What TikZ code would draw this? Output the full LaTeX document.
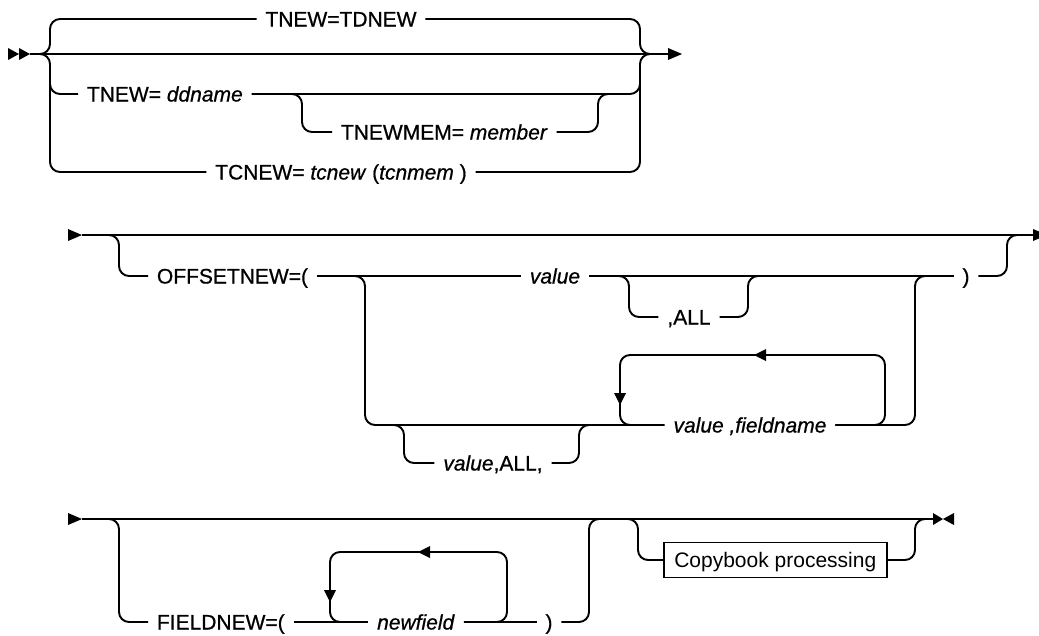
\documentclass[tikz,border=0pt]{standalone}
\usepackage{fontspec}
\setmainfont{Liberation Sans}[
  BoldFont=Liberation Sans, BoldFeatures={FakeBold=0.7},
  BoldItalicFont=Liberation Sans Italic, BoldItalicFeatures={FakeBold=0.7}]
\begin{document}
\begin{tikzpicture}[x=1pt,y=-1pt,
  line width=1.9pt,
  rc/.style={rounded corners=10pt},
  lbl/.style={inner xsep=8pt, inner ysep=0pt, text height=15pt, text depth=0pt, font=\fontsize{21}{25}\selectfont\bfseries},
  boxed/.style={draw, line width=1.6pt, inner xsep=10.5pt, inner ysep=10pt, text height=15pt, text depth=0pt, font=\fontsize{21}{25}\selectfont}]
\useasboundingbox (0,0) rectangle (1039,635);
\clip (0,0) rectangle (1039,635);

% ---------------- Section 1 ----------------
\coordinate (s1a) at (30,54);
\coordinate (s1b) at (668,54);
\draw (s1a) -- (s1b);
\fill (8,48) -- (19,54) -- (8,60) -- cycle;
\fill (19,48) -- (30,54) -- (19,60) -- cycle;
\fill (668,48) -- (682,54) -- (668,60) -- cycle;

\node[lbl] (t1) at (341,19) {TNEW=TDNEW};
\node[lbl,anchor=west] (t2) at (78,94) {TNEW= \textit{ddname}};
\node[lbl,anchor=west] (t3) at (332,132) {TNEWMEM= \textit{member}};
\node[lbl] (t4) at (341,172) {TCNEW= \textit{tcnew} (\textit{tcnmem} )};

\draw[rc] (40,54) -| (50,19) -- (t1.west);
\draw[rc] (40,54) -| (50,172) -- (t4.west);
\draw[rc] (50,70) |- (t2.west);
\draw[rc] (t1.east) -| (640,54) -- (650,54);
\draw[rc] (t4.east) -| (640,54) -- (650,54);
\draw[rc] (t2.east) -| (640,70);
\draw[rc] (282,94) -| (302,132) -- (t3.west);
\draw[rc] (t3.east) -| (598,94) -- (618,94);

% ---------------- Section 2 ----------------
\coordinate (s2a) at (82,235);
\coordinate (s2b) at (1033,235);
\fill (68,229) -- (82,235) -- (68,241) -- cycle;
\draw (s2a) -- (s2b);
\fill (1033,229) -- (1047,235) -- (1033,241) -- cycle;

\node[lbl,anchor=west] (o1) at (148,276) {OFFSETNEW=(};
\node[lbl] (v1) at (555,276) {\textit{value}};
\node[lbl] (a1) at (689,317) {,ALL};
\node[lbl] (p1) at (966,276) {)};
\node[lbl] (f1) at (750,425) {\textit{value ,fieldname}};
\node[lbl] (va) at (493,463) {\textit{value},ALL,};

\draw[rc] (109,235) -| (119,276) -- (o1.west);
\draw (o1.east) -- (v1.west);
\draw (v1.east) -- (p1.west);
\draw[rc] (619,276) -| (629,317) -- (a1.west);
\draw[rc] (a1.east) -| (748,276) -- (758,276);
\draw[rc] (355,276) -| (365,425) -- (f1.west);
\draw[rc] (394,425) -| (404,463) -- (va.west);
\draw[rc] (va.east) -| (579,425) -- (589,425);
\draw[rc] (f1.east) -| (885,355) -| (620,425) -- (640,425);
\draw[rc] (f1.east) -| (915,276) -- (925,276);
\draw[rc] (p1.east) -| (1007,235) -- (1017,235);
\fill (754,355) -- (766,349) -- (766,361) -- cycle;
\fill (620,405) -- (614,393) -- (626,393) -- cycle;

% ---------------- Section 3 ----------------
\coordinate (s3a) at (82,519);
\coordinate (s3b) at (933,519);
\fill (68,513) -- (82,519) -- (68,525) -- cycle;
\draw (s3a) -- (s3b);
\fill (933,513) -- (943,519) -- (933,525) -- cycle;
\fill (954,513) -- (943,519) -- (954,525) -- cycle;

\node[lbl,anchor=west] (fn) at (148,622) {FIELDNEW=(};
\node[lbl] (nf) at (416,622) {\textit{newfield}};
\node[lbl] (cp) at (549,622) {)};
\node[boxed,anchor=west] (cb) at (663,560) {Copybook processing};

\draw[rc] (109,519) -| (119,622) -- (fn.west);
\draw (fn.east) -- (nf.west);
\draw (nf.east) -- (cp.west);
\draw[rc] (nf.east) -| (507,552) -| (330,622) -- (345,622);
\draw[rc] (cp.east) -| (589,519) -- (599,519);
\draw[rc] (628,519) -| (638,560) -- (cb.west);
\draw[rc] (cb.east) -| (915,519) -- (925,519);
\fill (418,552) -- (430,546) -- (430,558) -- cycle;
\fill (330,602) -- (324,590) -- (336,590) -- cycle;
\end{tikzpicture}
\end{document}
